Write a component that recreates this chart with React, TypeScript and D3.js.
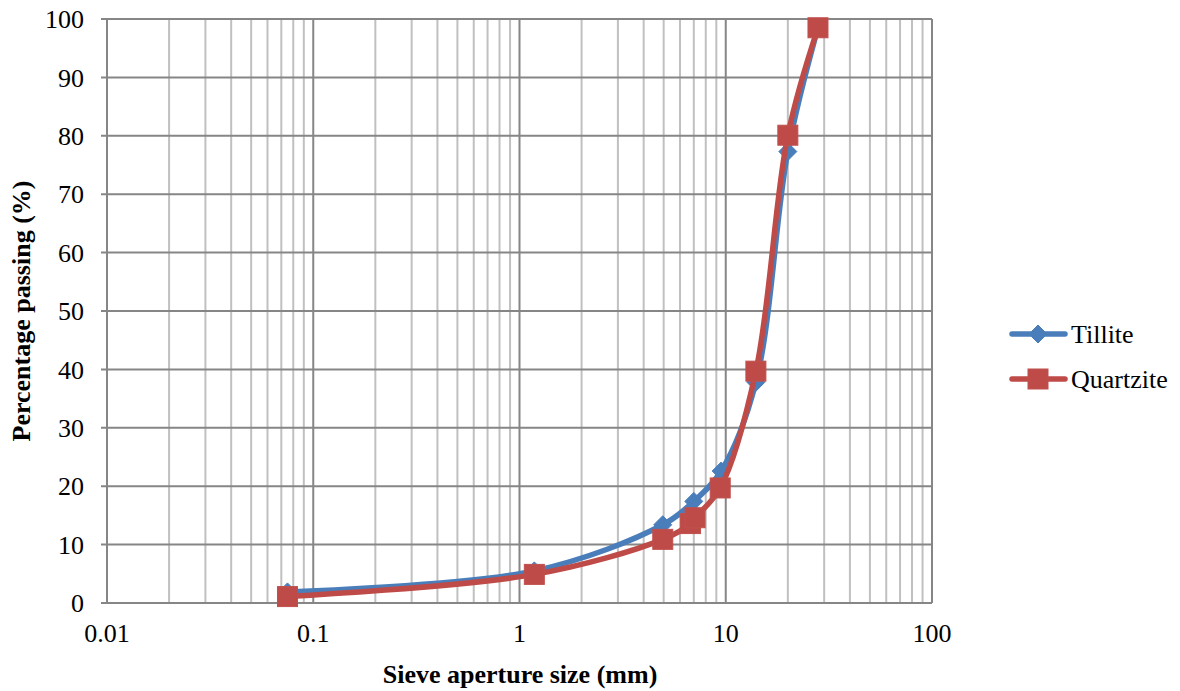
import React from 'react'
import * as d3 from 'd3'

const tilliteSizes = [0.075, 1.18, 4.95, 7.0, 9.5, 14.0, 20.0, 28.0]
const tilliteValues = [1.9, 5.5, 13.4, 17.4, 22.6, 37.8, 77.3, 98.5]
const quartziteSizes = [0.075, 1.18, 4.95, 6.75, 7.1, 9.4, 14.0, 20.0, 28.0]
const quartziteValues = [1.1, 4.9, 10.9, 13.6, 14.6, 19.7, 39.7, 80.1, 98.5]
const xTicks = [0.01, 0.1, 1, 10, 100]
const yTicks = [0, 10, 20, 30, 40, 50, 60, 70, 80, 90, 100]

const font = '"Liberation Serif", "Times New Roman", serif'

function App() {
    const width = 1180
    const height = 691
    const left = 107
    const right = 932
    const top = 19
    const bottom = 603

    const x = d3.scaleLog().domain([0.01, 100]).range([left, right])
    const y = d3.scaleLinear().domain([0, 100]).range([bottom, top])

    const minor: number[] = []
    for (let d = 0.01; d < 100; d *= 10) {
        for (let k = 2; k <= 9; k++) minor.push(d * k)
    }

    const line = d3.line<[number, number]>()
        .x(d => x(d[0]))
        .y(d => y(d[1]))
        .curve(d3.curveCatmullRom.alpha(0.5))

    const tPts: [number, number][] = tilliteSizes.map((s, i) => [s, tilliteValues[i]])
    const qPts: [number, number][] = quartziteSizes.map((s, i) => [s, quartziteValues[i]])

    const blue = '#4a7ebb'
    const red = '#be4b48'

    const diamond = (cx: number, cy: number, key: any) => (
        <path key={key} d={`M${cx},${cy - 9}L${cx + 9},${cy}L${cx},${cy + 9}L${cx - 9},${cy}Z`} fill={blue} stroke={blue} strokeWidth={1} />
    )
    const square = (cx: number, cy: number, key: any) => (
        <rect key={key} x={cx - 10} y={cy - 10} width={20} height={20} fill={red} stroke={'#c0504d'} strokeWidth={1} />
    )

    return (
        <svg width={width} height={height} style={{ position: 'absolute', left: 0, top: 0 }}>
            <rect width={width} height={height} fill="white" />
            {minor.map((v, i) => (
                <line key={'m' + i} x1={x(v)} x2={x(v)} y1={top} y2={bottom} stroke="#c0c0c0" strokeWidth={2} />
            ))}
            {xTicks.map((v, i) => (
                <line key={'x' + i} x1={x(v)} x2={x(v)} y1={top} y2={bottom} stroke="#868686" strokeWidth={2} />
            ))}
            {yTicks.map((v, i) => (
                <line key={'y' + i} x1={left - 6} x2={right} y1={y(v)} y2={y(v)} stroke="#868686" strokeWidth={2} />
            ))}
            <line x1={left} x2={left} y1={top} y2={bottom} stroke="#868686" strokeWidth={2} />

            {yTicks.map((v, i) => (
                <text key={'yl' + i} x={84} y={y(v)} dy="0.35em" textAnchor="end" fontFamily={font} fontSize={26}>{v}</text>
            ))}
            {xTicks.map((v, i) => (
                <text key={'xl' + i} x={x(v)} y={642} textAnchor="middle" fontFamily={font} fontSize={26}>{String(v)}</text>
            ))}

            <path d={line(tPts) || ''} fill="none" stroke={blue} strokeWidth={5.5} strokeLinecap="round" />
            {tPts.map((d, i) => diamond(x(d[0]), y(d[1]), 't' + i))}
            <path d={line(qPts) || ''} fill="none" stroke={red} strokeWidth={5.5} strokeLinecap="round" />
            {qPts.map((d, i) => square(x(d[0]), y(d[1]), 'q' + i))}

            <text x={520} y={683} textAnchor="middle" fontFamily={font} fontSize={26} fontWeight="bold">Sieve aperture size (mm)</text>
            <text transform={`translate(30, ${(top + bottom) / 2}) rotate(-90)`} textAnchor="middle" fontFamily={font} fontSize={26} fontWeight="bold">Percentage passing (%)</text>

            <g>
                <line x1={1012} x2={1065} y1={334} y2={334} stroke={blue} strokeWidth={5.5} strokeLinecap="round" />
                {diamond(1038, 334, 'ld')}
                <text x={1071} y={334} dy="0.35em" fontFamily={font} fontSize={26}>Tillite</text>
                <line x1={1012} x2={1065} y1={379} y2={379} stroke={red} strokeWidth={5.5} strokeLinecap="round" />
                {square(1038, 379, 'ls')}
                <text x={1071} y={379} dy="0.35em" fontFamily={font} fontSize={26}>Quartzite</text>
            </g>
        </svg>
    )
}

export default App
